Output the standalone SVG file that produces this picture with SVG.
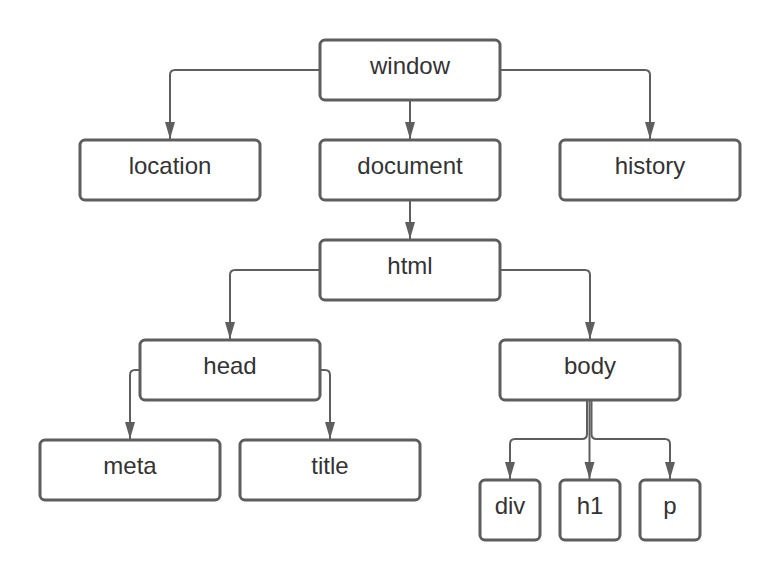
<svg xmlns="http://www.w3.org/2000/svg" width="780" height="580" viewBox="0 0 780 580">
<defs>
<marker id="ah" markerUnits="userSpaceOnUse" markerWidth="18" markerHeight="12" refX="17" refY="5.5" orient="auto" viewBox="0 0 18 11">
<path d="M0,0.5 L17,5.5 L0,10.5 z" fill="#5e5e5e"/>
</marker>
<style>
.box{fill:#ffffff;stroke:#5e5e5e;stroke-width:3;}
.lbl{font-family:"Liberation Sans",Arial,sans-serif;font-size:24px;fill:#333333;text-anchor:middle;}
.edge{fill:none;stroke:#5e5e5e;stroke-width:2;marker-end:url(#ah);}
</style>
</defs>
<rect width="780" height="580" fill="#ffffff"/>
<g id="connectors">
<path class="edge" d="M320,70 H175 Q170,70 170,75 V139"/>
<path class="edge" d="M410,100 V139"/>
<path class="edge" d="M500,70 H645 Q650,70 650,75 V139"/>
<path class="edge" d="M410,200 V239"/>
<path class="edge" d="M320,270 H235 Q230,270 230,275 V339"/>
<path class="edge" d="M500,270 H585 Q590,270 590,275 V339"/>
<path class="edge" d="M140,370 H135 Q130,370 130,375 V439"/>
<path class="edge" d="M320,370 H325 Q330,370 330,375 V439"/>
<path class="edge" d="M587,400 V434 Q587,439 582,439 H515 Q510,439 510,444 V479"/>
<path class="edge" d="M589.5,400 V479"/>
<path class="edge" d="M591.5,400 V434 Q591.5,439 596.5,439 H665 Q670,439 670,444 V479"/>
</g>
<g id="window"><rect class="box" x="320" y="40" width="180" height="60" rx="5"/><text class="lbl" x="410" y="74">window</text></g>
<g id="location"><rect class="box" x="80" y="140" width="180" height="60" rx="5"/><text class="lbl" x="170" y="174">location</text></g>
<g id="document"><rect class="box" x="320" y="140" width="180" height="60" rx="5"/><text class="lbl" x="410" y="174">document</text></g>
<g id="history"><rect class="box" x="560" y="140" width="180" height="60" rx="5"/><text class="lbl" x="650" y="174">history</text></g>
<g id="html"><rect class="box" x="320" y="240" width="180" height="60" rx="5"/><text class="lbl" x="410" y="274">html</text></g>
<g id="head"><rect class="box" x="140" y="340" width="180" height="60" rx="5"/><text class="lbl" x="230" y="374">head</text></g>
<g id="body"><rect class="box" x="500" y="340" width="180" height="60" rx="5"/><text class="lbl" x="590" y="374">body</text></g>
<g id="meta"><rect class="box" x="40" y="440" width="180" height="60" rx="5"/><text class="lbl" x="130" y="474">meta</text></g>
<g id="title"><rect class="box" x="240" y="440" width="180" height="60" rx="5"/><text class="lbl" x="330" y="474">title</text></g>
<g id="div"><rect class="box" x="480" y="480" width="60" height="60" rx="5"/><text class="lbl" x="510" y="514">div</text></g>
<g id="h1"><rect class="box" x="560" y="480" width="60" height="60" rx="5"/><text class="lbl" x="590" y="514">h1</text></g>
<g id="p"><rect class="box" x="640" y="480" width="60" height="60" rx="5"/><text class="lbl" x="670" y="514">p</text></g>
</svg>
